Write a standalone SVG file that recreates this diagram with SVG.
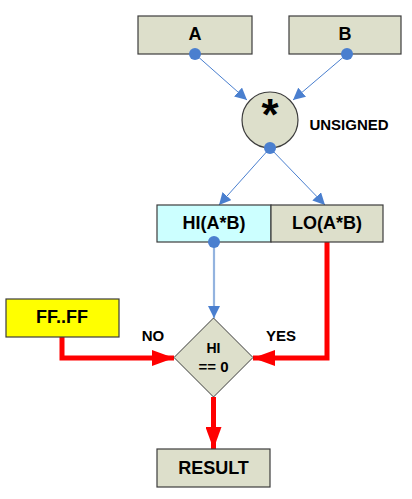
<svg xmlns="http://www.w3.org/2000/svg" width="412" height="499" viewBox="0 0 412 499">
<defs>
<style>
.box{fill:#dddfcb;stroke:#3c3c3c;stroke-width:1.2}
.t{font-family:"Liberation Sans",Arial,sans-serif;font-weight:bold;fill:#000;text-anchor:middle}
.blue{stroke:#4a7fcf;stroke-width:1;fill:none}
.lblue{stroke:#93b3df;stroke-width:2.2;fill:none}
.red{stroke:#ff0000;stroke-width:5;fill:none}
.dot{fill:#4a7fcf}
</style>
<marker id="ab" viewBox="0 0 12 12" refX="12" refY="6" markerWidth="12" markerHeight="12" markerUnits="userSpaceOnUse" orient="auto"><path d="M0,0 L12,6 L0,12 Z" fill="#4a7fcf"/></marker>
<marker id="ar" viewBox="0 0 22 16" refX="22" refY="8" markerWidth="22" markerHeight="16" markerUnits="userSpaceOnUse" orient="auto"><path d="M0,0 L22,8 L0,16 Z" fill="#ff0000"/></marker>
</defs>
<g id="connectors">
<line class="blue" x1="195" y1="54" x2="247" y2="100" marker-end="url(#ab)"/>
<line class="blue" x1="347" y1="54" x2="293" y2="100" marker-end="url(#ab)"/>
<line class="blue" x1="270" y1="148" x2="219" y2="205" marker-end="url(#ab)"/>
<line class="blue" x1="270" y1="148" x2="325" y2="205" marker-end="url(#ab)"/>
<line class="lblue" x1="214" y1="242" x2="214" y2="318" marker-end="url(#ab)"/>
<polyline class="red" points="62,337 62,358 174,358" marker-end="url(#ar)"/>
<polyline class="red" points="327,242 327,358 253,358" marker-end="url(#ar)"/>
<line class="red" x1="213.5" y1="397" x2="213.5" y2="449" marker-end="url(#ar)"/>
</g>
<g id="A"><rect class="box" x="138" y="16" width="114" height="38"/><text class="t" x="195" y="40" font-size="18">A</text><circle class="dot" cx="195" cy="54" r="6"/></g>
<g id="B"><rect class="box" x="289" y="16" width="112" height="38"/><text class="t" x="345" y="40" font-size="18">B</text><circle class="dot" cx="347" cy="54" r="6"/></g>
<g id="mul"><circle cx="270" cy="120" r="28" fill="#dddfcb" stroke="#3c3c3c" stroke-width="1.2"/><text class="t" x="270" y="130" font-size="44">*</text><circle class="dot" cx="270" cy="148" r="6"/></g>
<g id="unsigned"><text class="t" x="349" y="130" font-size="15">UNSIGNED</text></g>
<g id="HI"><rect x="157" y="205" width="114" height="37" fill="#ccffff" stroke="#3c3c3c" stroke-width="1.2"/><text class="t" x="214" y="229" font-size="18">HI(A*B)</text><circle class="dot" cx="214" cy="242" r="6"/></g>
<g id="LO"><rect class="box" x="271" y="205" width="112" height="37"/><text class="t" x="327" y="229" font-size="18">LO(A*B)</text></g>
<g id="FF"><rect x="6" y="299" width="113" height="38" fill="#ffff00" stroke="#3c3c3c" stroke-width="1.2"/><text class="t" x="62" y="323" font-size="18">FF..FF</text></g>
<g id="cond"><polygon points="213.5,318 253,357.5 213.5,397 174,357.5" fill="#dddfcb" stroke="#3c3c3c" stroke-width="1"/><text class="t" x="213.5" y="353" font-size="14">HI</text><text class="t" x="213.5" y="372" font-size="15">== 0</text></g>
<g id="labels"><text class="t" x="153" y="341" font-size="15">NO</text><text class="t" x="281" y="341" font-size="15">YES</text></g>
<g id="RESULT"><rect class="box" x="157" y="449" width="113" height="38"/><text class="t" x="213.5" y="474" font-size="18">RESULT</text></g>
</svg>
